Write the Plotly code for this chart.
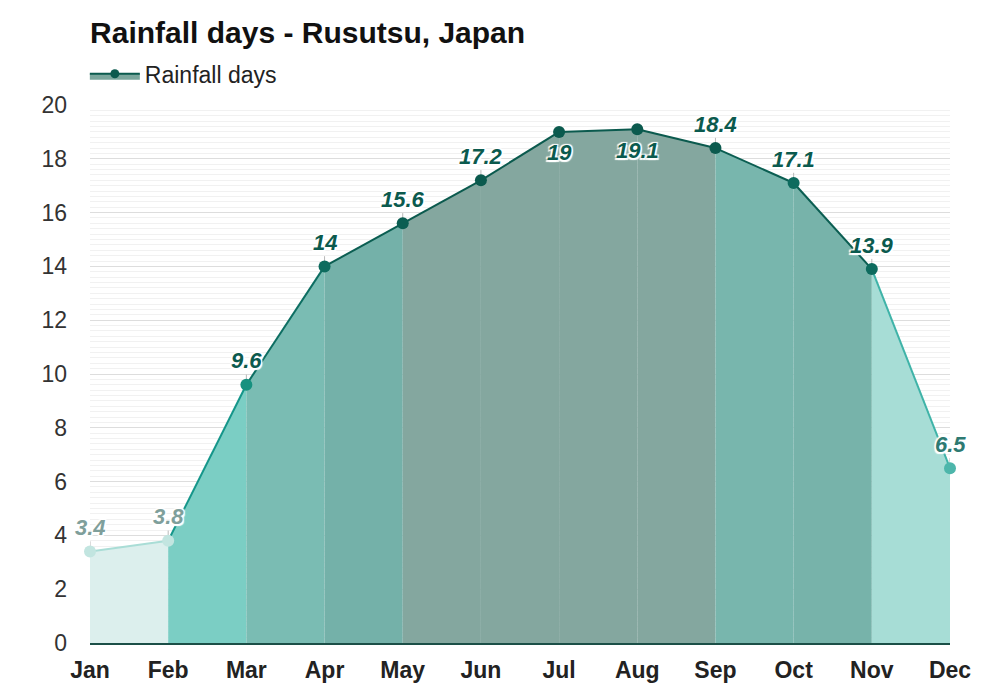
import plotly.graph_objects as go

# Data
months = ["Jan", "Feb", "Mar", "Apr", "May", "Jun", "Jul", "Aug", "Sep", "Oct", "Nov", "Dec"]
rain_days = [3.4, 3.8, 9.6, 14, 15.6, 17.2, 19, 19.1, 18.4, 17.1, 13.9, 6.5]
label_text = ["3.4", "3.8", "9.6", "14", "15.6", "17.2", "19", "19.1", "18.4", "17.1", "13.9", "6.5"]

# Styling per month / per segment
segment_fill = ["#dcefed", "#7bcec4", "#7abcb3", "#74b1a9", "#84a79f", "#84a79f",
                "#84a79f", "#84a79f", "#78b6ad", "#77b3aa", "#a7ddd6"]
segment_line = ["#a9ddd6", "#15968a", "#0d6e62", "#0b5e52", "#0b5a4e", "#0b5a4e",
                "#0b5a4e", "#0b5a4e", "#0b5e52", "#0b5e52", "#3fb3a8"]
marker_colors = ["#c2e5e0", "#c2e5e0", "#16917f", "#0d6b5e", "#0b5e52", "#0b5a4e",
                 "#0b5a4e", "#0b5a4e", "#0b5a4e", "#0d6b5e", "#0d6b5e", "#4db6ab"]
label_colors = ["#7f9f9b", "#7f9f9b", "#0b5a4e", "#0b5a4e", "#0b5a4e", "#0b5a4e",
                "#0b5a4e", "#0b5a4e", "#0b5a4e", "#0b5a4e", "#0b5a4e", "#2e7a72"]
label_below = [False] * 6 + [True] * 2 + [False] * 4

x = list(range(len(months)))
fig = go.Figure()

# Area segments, one per month pair
for i in range(len(months) - 1):
    fig.add_trace(go.Scatter(
        x=[x[i], x[i + 1]],
        y=[rain_days[i], rain_days[i + 1]],
        mode="lines",
        fill="tozeroy",
        fillcolor=segment_fill[i],
        line=dict(color=segment_line[i], width=2),
        showlegend=False,
        hoverinfo="skip",
    ))

# Small leader ticks from points up to labels
up = [0 if b else 0.38 for b in label_below]
fig.add_trace(go.Scatter(
    x=x, y=rain_days, mode="markers",
    marker=dict(size=1, color="rgba(0,0,0,0)"),
    error_y=dict(type="data", symmetric=False, array=up, arrayminus=[0] * len(x),
                 color="#b8b8b8", thickness=1, width=0),
    showlegend=False, hoverinfo="skip", cliponaxis=False,
))

# Points
fig.add_trace(go.Scatter(
    x=x, y=rain_days,
    mode="markers",
    marker=dict(size=12, color=marker_colors),
    showlegend=False,
    cliponaxis=False,
    hovertemplate="%{y} days<extra></extra>",
))

# Value labels
halo = ("1.5px 1.5px 1px white, -1.5px -1.5px 1px white, "
        "1.5px -1.5px 1px white, -1.5px 1.5px 1px white")
for i in range(len(months)):
    fig.add_annotation(
        x=x[i], y=rain_days[i], text=label_text[i], showarrow=False,
        yshift=-21 if label_below[i] else 24,
        font=dict(family="Liberation Sans", size=22, color=label_colors[i],
                  weight="bold", style="italic", shadow=halo),
    )

# Legend entry
fig.add_trace(go.Scatter(
    x=[None], y=[None],
    mode="lines+markers",
    name="Rainfall days",
    fill="tozeroy",
    fillcolor="#7aa69c",
    line=dict(color="#0b5a4e", width=2),
    marker=dict(size=9, color="#0b5a4e"),
))

fig.update_layout(
    width=992, height=692,
    title=dict(text="<b>Rainfall days - Rusutsu, Japan</b>", x=0.0827, xanchor="left",
               y=0.965, yanchor="middle",
               font=dict(family="Liberation Sans", size=30, color="#111111")),
    font=dict(family="Liberation Sans", color="#333333"),
    plot_bgcolor="white", paper_bgcolor="white",
    margin=dict(l=82, r=50, t=97, b=57),
    legend=dict(x=-0.006, xanchor="left", y=1.058, yanchor="middle",
                orientation="h", font=dict(size=23, color="#222222"),
                itemwidth=50, bgcolor="rgba(0,0,0,0)"),
    xaxis=dict(
        range=[0, 11], tickvals=x, ticktext=["<b>" + m + "</b>" for m in months],
        tickfont=dict(size=23, color="#222222"),
        showgrid=False, zeroline=False, showline=True,
        linecolor="#1b4f47", linewidth=1.5, ticks="", ticklabelstandoff=6,
    ),
    yaxis=dict(
        range=[0, 20], dtick=2, tickfont=dict(size=23, color="#333333"),
        gridcolor="#dddddd", gridwidth=1, zeroline=False,
        minor=dict(dtick=0.2, showgrid=True, gridcolor="#f1f1f1", gridwidth=1),
        ticks="", ticklabelstandoff=22,
    ),
)

fig.write_html("out.html")
